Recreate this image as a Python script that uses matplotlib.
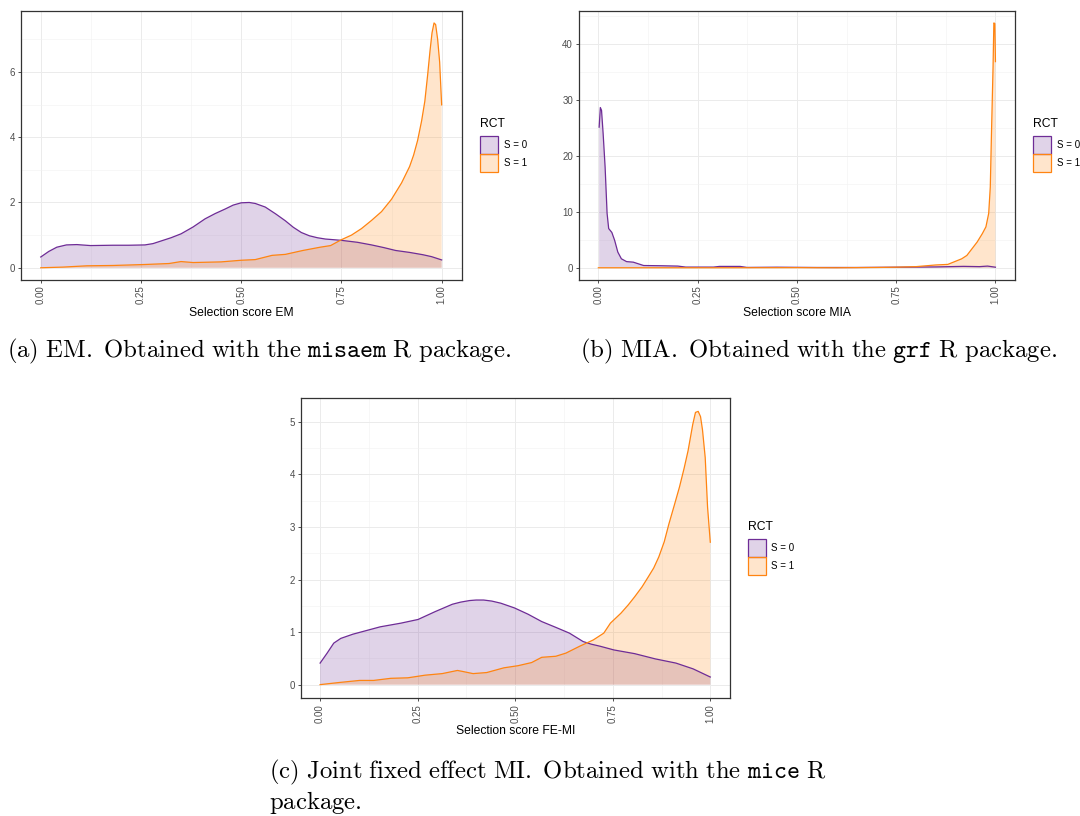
import matplotlib
matplotlib.use("Agg")
import matplotlib.pyplot as plt
from matplotlib.patches import Patch
from matplotlib.ticker import MultipleLocator

plt.rcParams['font.family'] = ['Liberation Sans', 'DejaVu Sans']
plt.rcParams['mathtext.fontset'] = 'cm'

# ---- data ----
# (a) EM
em_x0 = [0, 0.02, 0.04, 0.064, 0.09, 0.124, 0.18, 0.22, 0.26, 0.28, 0.30, 0.325, 0.35, 0.38,
         0.41, 0.435, 0.46, 0.48, 0.50, 0.52, 0.535, 0.56, 0.586, 0.61, 0.63, 0.65, 0.67,
         0.69, 0.71, 0.75, 0.79, 0.825, 0.855, 0.885, 0.92, 0.953, 0.975, 1.0]
em_y0 = [0.33, 0.5, 0.63, 0.70, 0.71, 0.68, 0.69, 0.69, 0.70, 0.74, 0.82, 0.92, 1.04, 1.25,
         1.5, 1.66, 1.8, 1.92, 1.99, 2.0, 1.97, 1.86, 1.65, 1.44, 1.24, 1.08, 0.98,
         0.92, 0.88, 0.84, 0.78, 0.70, 0.62, 0.53, 0.47, 0.40, 0.34, 0.24]
em_x1 = [0, 0.055, 0.115, 0.18, 0.26, 0.32, 0.35, 0.38, 0.45, 0.50, 0.535, 0.577, 0.61, 0.654,
         0.697, 0.723, 0.75, 0.775, 0.8, 0.825, 0.85, 0.875, 0.9, 0.92, 0.93, 0.94, 0.95,
         0.958, 0.965, 0.971, 0.976, 0.981, 0.985, 0.99, 0.995, 1.0]
em_y1 = [0, 0.02, 0.06, 0.07, 0.10, 0.13, 0.19, 0.16, 0.18, 0.23, 0.25, 0.38, 0.41, 0.53,
         0.63, 0.68, 0.86, 1.0, 1.2, 1.45, 1.72, 2.1, 2.6, 3.1, 3.45, 3.9, 4.5,
         5.1, 5.9, 6.65, 7.2, 7.5, 7.45, 7.0, 6.3, 4.99]

# (b) MIA
mia_x0 = [0.002, 0.005, 0.008, 0.012, 0.017, 0.022, 0.026, 0.034, 0.041, 0.049, 0.058, 0.071,
          0.088, 0.114, 0.158, 0.2, 0.22, 0.29, 0.305, 0.357, 0.374, 0.45, 0.55, 0.65, 0.75,
          0.85, 0.92, 0.96, 0.98, 1.0]
mia_y0 = [25.1, 28.6, 28.1, 24, 18, 9.7, 7.0, 6.3, 4.9, 2.8, 1.6, 1.1,
          1.0, 0.4, 0.36, 0.3, 0.12, 0.12, 0.24, 0.24, 0.06, 0.1, 0.05, 0.05, 0.1,
          0.15, 0.25, 0.2, 0.3, 0.1]
mia_x1 = [0.0, 0.1, 0.3, 0.5, 0.6, 0.7, 0.75, 0.8, 0.85, 0.88, 0.894, 0.915, 0.928, 0.941,
          0.954, 0.967, 0.976, 0.983, 0.987, 0.99, 0.994, 0.996, 0.9985, 1.0]
mia_y1 = [0.0, 0.0, 0.0, 0.02, 0.0, 0.05, 0.1, 0.2, 0.5, 0.6, 1.0, 1.6, 2.2, 3.4,
          4.6, 6.1, 7.3, 9.7, 14.4, 24, 35.9, 43.7, 43.6, 36.8]

# (c) FE-MI
fe_x0 = [0, 0.018, 0.035, 0.053, 0.084, 0.119, 0.154, 0.207, 0.251, 0.295, 0.339, 0.36,
         0.383, 0.40, 0.419, 0.44, 0.463, 0.498, 0.533, 0.568, 0.604, 0.639, 0.674, 0.695,
         0.718, 0.753, 0.806, 0.859, 0.912, 0.956, 1.0]
fe_y0 = [0.41, 0.6, 0.79, 0.88, 0.96, 1.03, 1.10, 1.17, 1.24, 1.39, 1.53, 1.57,
         1.60, 1.61, 1.61, 1.59, 1.55, 1.46, 1.34, 1.2, 1.09, 0.98, 0.82, 0.77,
         0.73, 0.66, 0.59, 0.49, 0.41, 0.30, 0.145]
fe_x1 = [0, 0.048, 0.101, 0.137, 0.181, 0.225, 0.269, 0.313, 0.339, 0.352, 0.366, 0.392,
         0.427, 0.471, 0.507, 0.542, 0.568, 0.604, 0.63, 0.665, 0.7, 0.727, 0.744, 0.771,
         0.79, 0.806, 0.825, 0.841, 0.855, 0.868, 0.882, 0.894, 0.908, 0.921, 0.933, 0.943,
         0.955, 0.962, 0.969, 0.975, 0.98, 0.987, 0.993, 1.0]
fe_y1 = [0, 0.04, 0.08, 0.08, 0.12, 0.13, 0.18, 0.21, 0.25, 0.27, 0.25, 0.21,
         0.23, 0.32, 0.36, 0.42, 0.52, 0.54, 0.6, 0.73, 0.85, 0.98, 1.17, 1.36,
         1.52, 1.67, 1.86, 2.05, 2.22, 2.43, 2.72, 3.06, 3.42, 3.76, 4.12, 4.45,
         4.95, 5.18, 5.2, 5.1, 4.85, 4.32, 3.38, 2.71]

labels = ["S = 0", "S = 1"]
line_cols = ["#6E2C96", "#FF8411"]
fill_cols = [(0.45, 0.22, 0.6, 0.22), (1.0, 0.55, 0.1, 0.22)]

x_ticks = [0.0, 0.25, 0.5, 0.75, 1.0]
x_ticklabels = ["0.00", "0.25", "0.50", "0.75", "1.00"]

captions = [
    r"$\mathrm{(a)\ EM.\ Obtained\ with\ the\ }\mathtt{misaem}\mathrm{\ R\ package.}$",
    r"$\mathrm{(b)\ MIA.\ Obtained\ with\ the\ }\mathtt{grf}\mathrm{\ R\ package.}$",
    r"$\mathrm{(c)\ Joint\ fixed\ effect\ MI.\ Obtained\ with\ the\ }\mathtt{mice}\mathrm{\ R}$",
    r"$\mathrm{package.}$",
]


def density_panel(ax, x0, y0, x1, y1, xlabel, ymajor, ytop):
    for x, y, lc, fc in [(x0, y0, line_cols[0], fill_cols[0]), (x1, y1, line_cols[1], fill_cols[1])]:
        ax.fill_between(x, 0, y, facecolor=fc, edgecolor='none', zorder=2)
        ax.plot(x, y, color=lc, lw=0.9, zorder=3)
    ax.set_xlim(-0.05, 1.05)
    ax.set_ylim(-0.05 * ytop, 1.05 * ytop)
    ax.set_xticks(x_ticks)
    ax.set_xticklabels(x_ticklabels, rotation=90)
    ax.xaxis.set_minor_locator(MultipleLocator(0.125))
    ax.yaxis.set_major_locator(MultipleLocator(ymajor))
    ax.yaxis.set_minor_locator(MultipleLocator(ymajor / 2))
    ax.grid(which='major', color='#EBEBEB', lw=0.7, zorder=0)
    ax.grid(which='minor', color='#F2F2F2', lw=0.4, zorder=0)
    ax.set_axisbelow(True)
    ax.tick_params(which='major', length=2.2, width=0.6, color='#333333',
                   labelsize=7, labelcolor='#4D4D4D', pad=1.8)
    ax.tick_params(which='minor', length=0)
    for s in ax.spines.values():
        s.set_color('#333333')
        s.set_linewidth(0.9)
    ax.set_xlabel(xlabel, fontsize=8.7, color='black', labelpad=2)
    handles = [Patch(facecolor=fill_cols[i], edgecolor=line_cols[i], lw=0.9) for i in range(2)]
    leg = ax.legend(handles, labels, title="RCT", loc='center left',
                    bbox_to_anchor=(1.03, 0.5), frameon=False, fontsize=7,
                    title_fontsize=8.7, handlelength=1.85, handleheight=2.5,
                    labelspacing=0.0, handletextpad=0.6, borderpad=0,
                    alignment='left')
    leg._legend_box.sep = 4


fig = plt.figure(figsize=(10.8, 8.16), dpi=100)
ax_a = fig.add_axes([0.01917, 0.65686, 0.40833, 0.33002])
ax_b = fig.add_axes([0.53565, 0.65686, 0.40444, 0.33002])
ax_c = fig.add_axes([0.27833, 0.14424, 0.39741, 0.36838])

density_panel(ax_a, em_x0, em_y0, em_x1, em_y1, "Selection score EM", 2, max(em_y1))
density_panel(ax_b, mia_x0, mia_y0, mia_x1, mia_y1, "Selection score MIA", 10, max(mia_y1))
density_panel(ax_c, fe_x0, fe_y0, fe_x1, fe_y1, "Selection score FE-MI", 1, max(fe_y1))

fig.text(0.0065, 1 - 351 / 816, captions[0], fontsize=17.8, va='center', ha='left')
fig.text(0.5370, 1 - 351 / 816, captions[1], fontsize=17.8, va='center', ha='left')
fig.text(0.2495, 1 - 772 / 816, captions[2], fontsize=17.8, va='center', ha='left')
fig.text(0.2495, 1 - 802 / 816, captions[3], fontsize=17.8, va='center', ha='left')

fig.savefig("out.png", dpi=100)
